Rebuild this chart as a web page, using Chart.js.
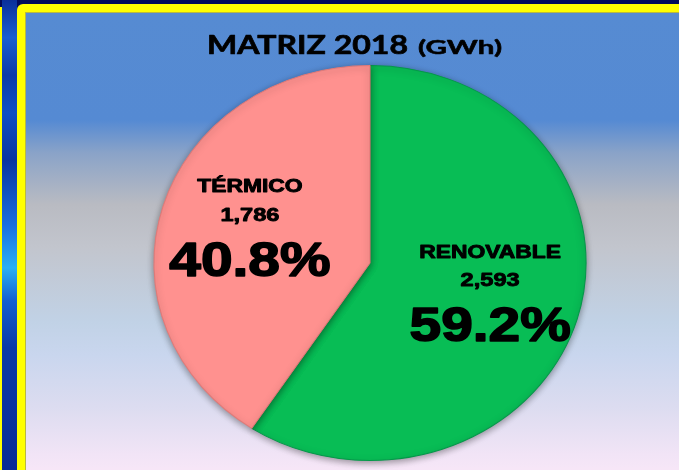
<!DOCTYPE html>
<html>
<head>
<meta charset="utf-8">
<script src="https://cdn.jsdelivr.net/npm/chart.js@4.4.1/dist/chart.umd.min.js"></script>
<style>
  html, body { margin: 0; padding: 0; }
  body { width: 679px; height: 470px; overflow: hidden; position: relative; background: #020b5c; }
  #leftLine { position: absolute; left: 0; top: 7px; width: 2px; height: 463px; background: #ffff00; }
  #leftStrip { position: absolute; left: 2px; top: 0; width: 15px; height: 470px;
    background: linear-gradient(to bottom, #0a2f9a 0%, #1a5fd0 8%, #0b3aa8 16%, #0f4fc4 24%, #0a35a0 34%, #1a6fe0 48%, #2ab0f5 57%, #1460d0 64%, #0a3aa6 74%, #0a33a0 86%, #082c95 100%); }
  #yellow { position: absolute; left: 17px; top: 4px; width: 700px; height: 500px; background: #ffff00; border-radius: 6px; }
  #inner { position: absolute; left: 25px; top: 12px; width: 660px; height: 470px;
    background: linear-gradient(to bottom, #568bd2 0%, #558ad3 23%, #8aa3c8 30%, #b9bbc2 41%, #c2c5cd 50%, #c1d2e6 66%, #c9d6ee 73%, #dcdcf0 84%, #f1e4f6 94%, #fbe8f8 100%);
    box-shadow: inset 1px 1px 0 #b8b840; }
  canvas { position: absolute; left: 0; top: 0; }
</style>
</head>
<body>
<div id="leftLine"></div>
<div id="leftStrip"></div>
<div id="yellow"></div>
<div id="inner"></div>
<canvas id="c" width="679" height="470"></canvas>
<script>
// ---- data ----
const categories = ['RENOVABLE', 'TÉRMICO'];
const valuesGWh = [2593, 1786];
const titleMain = 'MATRIZ 2018';
const titleUnit = '(GWh)';

// ---- styles ----
const sliceColors = ['#08bd55', '#ff918f'];
const sliceBorders = ['#05984a', '#e07a78'];

const total = valuesGWh.reduce((a, b) => a + b, 0);
const pctLabels = valuesGWh.map(v => (v / total * 100).toFixed(1) + '%');
const valLabels = valuesGWh.map(v => v.toLocaleString('en-US'));

const X_STRETCH = 1.094;

function drawStretched(ctx, text, x, y, font, sx, stroke) {
  ctx.save();
  ctx.font = font;
  ctx.translate(x, y);
  ctx.scale(sx, 1);
  ctx.textAlign = 'center';
  ctx.textBaseline = 'middle';
  ctx.fillStyle = '#000';
  ctx.fillText(text, 0, 0);
  if (stroke) {
    ctx.strokeStyle = '#000';
    ctx.lineWidth = stroke;
    ctx.lineJoin = 'round';
    ctx.strokeText(text, 0, 0);
  }
  ctx.restore();
}

const ellipsePlugin = {
  id: 'ellipse',
  beforeDatasetsDraw(chart) {
    const ctx = chart.ctx;
    const a = chart.getDatasetMeta(0).data[0];
    ctx.save();
    ctx.translate(a.x, a.y);
    ctx.scale(X_STRETCH, 1);
    ctx.translate(-a.x, -a.y);
    ctx.shadowColor = 'rgba(0,0,0,0.38)';
    ctx.shadowBlur = 7;
    ctx.shadowOffsetY = 2;
  },
  afterDatasetsDraw(chart) {
    const ctx = chart.ctx;
    ctx.restore();
    // labels
    const meta = chart.getDatasetMeta(0);
    meta.data.forEach((arc, i) => {
      const mid = (arc.startAngle + arc.endAngle) / 2;
      const r = arc.outerRadius * 0.58;
      const cx = arc.x + Math.cos(mid) * r * X_STRETCH;
      const cy = arc.y + Math.sin(mid) * r;
      drawStretched(ctx, categories[i], cx, cy - 43, 'bold 18px "Liberation Sans", Arial, sans-serif', 1.27, 0.9);
      drawStretched(ctx, valLabels[i], cx, cy - 15, 'bold 19px "Liberation Sans", Arial, sans-serif', 1.24, 0.9);
      drawStretched(ctx, pctLabels[i], cx, cy + 32, 'bold 49px "Liberation Sans", Arial, sans-serif', 1.16, 1.6);
    });
    // title
    ctx.save();
    ctx.fillStyle = '#000';
    ctx.strokeStyle = '#000';
    ctx.lineJoin = 'round';
    ctx.textBaseline = 'alphabetic';
    ctx.textAlign = 'left';
    ctx.font = 'bold 27px Lato, "Open Sans", sans-serif';
    const w1 = ctx.measureText(titleMain).width;
    ctx.save();
    ctx.translate(207, 54);
    ctx.scale(201 / w1, 1);
    ctx.fillText(titleMain, 0, 0);
    ctx.lineWidth = 0.7;
    ctx.strokeText(titleMain, 0, 0);
    ctx.restore();
    ctx.font = 'bold 19px Lato, "Open Sans", sans-serif';
    const w2 = ctx.measureText(titleUnit).width;
    ctx.translate(418, 54);
    ctx.scale(84 / w2, 1);
    ctx.fillText(titleUnit, 0, 0);
    ctx.lineWidth = 0.5;
    ctx.strokeText(titleUnit, 0, 0);
    ctx.restore();
  }
};

new Chart(document.getElementById('c'), {
  type: 'pie',
  data: {
    labels: categories,
    datasets: [{
      data: valuesGWh,
      backgroundColor: sliceColors,
      borderColor: sliceBorders,
      borderWidth: 1
    }]
  },
  options: {
    responsive: false,
    animation: false,
    devicePixelRatio: 1,
    layout: { padding: { top: 65, bottom: 9, left: 172, right: 111 } },
    plugins: {
      legend: { display: false },
      tooltip: { enabled: false },
      title: { display: false }
    }
  },
  plugins: [ellipsePlugin]
});
</script>
</body>
</html>
